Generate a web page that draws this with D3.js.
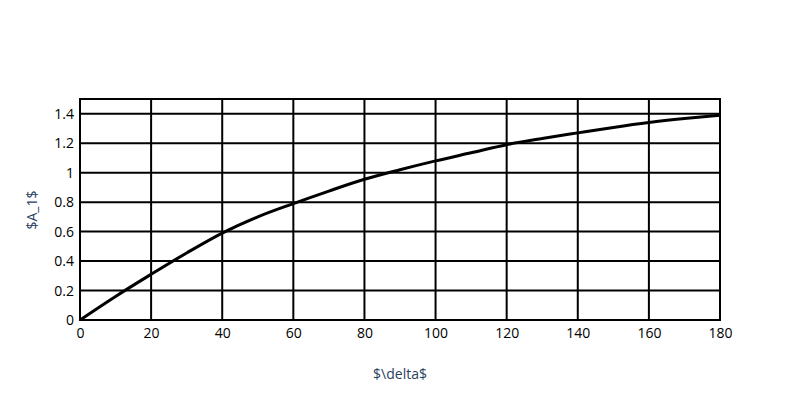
<!DOCTYPE html>
<html><head><meta charset="utf-8">
<script src="https://cdn.jsdelivr.net/npm/d3@7"></script>
<style>body{margin:0;background:#fff}svg{display:block}</style>
</head><body><svg id="c" width="800" height="400"></svg>
<script>
const deltaValues = [0,10,20,30,40,50,60,70,80,90,100,110,120,130,140,150,160,170,180];
const a1Values = [0,0.16,0.31,0.455,0.59,0.70,0.79,0.875,0.955,1.02,1.08,1.135,1.19,1.232,1.27,1.307,1.34,1.367,1.39];
const xTicks = [0,20,40,60,80,100,120,140,160,180];
const yTicks = [0,0.2,0.4,0.6,0.8,1,1.2,1.4];
const xTitle = "$\\delta$";
const yTitle = "$A_1$";

const svg = d3.select("#c");
const L=80,R=720,T=99,B=320;
const x = d3.scaleLinear().domain([0,180]).range([L,R]);
const y = d3.scaleLinear().domain([0,1.5]).range([B,T]);
const font = "'Open Sans', sans-serif";

const g = svg.append("g");
// grid
g.selectAll(".vg").data(xTicks).enter().append("line")
  .attr("x1",d=>x(d)).attr("x2",d=>x(d)).attr("y1",T).attr("y2",B)
  .attr("stroke","#000").attr("stroke-width",2);
g.selectAll(".hg").data(yTicks).enter().append("line")
  .attr("y1",d=>y(d)).attr("y2",d=>y(d)).attr("x1",L).attr("x2",R)
  .attr("stroke","#000").attr("stroke-width",2);
// frame
g.append("rect").attr("x",L).attr("y",T).attr("width",R-L).attr("height",B-T)
  .attr("fill","none").attr("stroke","#000").attr("stroke-width",2);

// curve
const line = d3.line().x((d,i)=>x(deltaValues[i])).y(d=>y(d)).curve(d3.curveMonotoneX);
const clip = svg.append("clipPath").attr("id","cp").append("rect")
  .attr("x",L).attr("y",T).attr("width",R-L).attr("height",B-T);
svg.append("path").datum(a1Values).attr("d",line).attr("fill","none")
  .attr("stroke","#000").attr("stroke-width",3).attr("clip-path","url(#cp)");

// axes labels
const xAxis = d3.axisBottom(x).tickValues(xTicks).tickSize(0).tickPadding(8).tickFormat(d3.format("d"));
const xa = svg.append("g").attr("transform",`translate(0,${B})`).call(xAxis);
xa.select(".domain").remove();
xa.selectAll("text").attr("font-family",font).attr("font-size",14).attr("fill","#000");

const yAxis = d3.axisLeft(y).tickValues(yTicks).tickSize(0).tickPadding(6).tickFormat(d=>d3.format("~g")(d));
const ya = svg.append("g").attr("transform",`translate(${L},0)`).call(yAxis);
ya.select(".domain").remove();
ya.selectAll("text").attr("font-family",font).attr("font-size",14).attr("fill","#000");

svg.append("text").attr("x",400).attr("y",379).attr("text-anchor","middle")
  .attr("font-family",font).attr("font-size",14).attr("fill","#2a3f5f").text(xTitle);
svg.append("text").attr("transform","translate(37,210) rotate(-90)").attr("text-anchor","middle")
  .attr("font-family",font).attr("font-size",14).attr("fill","#2a3f5f").text(yTitle);
</script></body></html>
